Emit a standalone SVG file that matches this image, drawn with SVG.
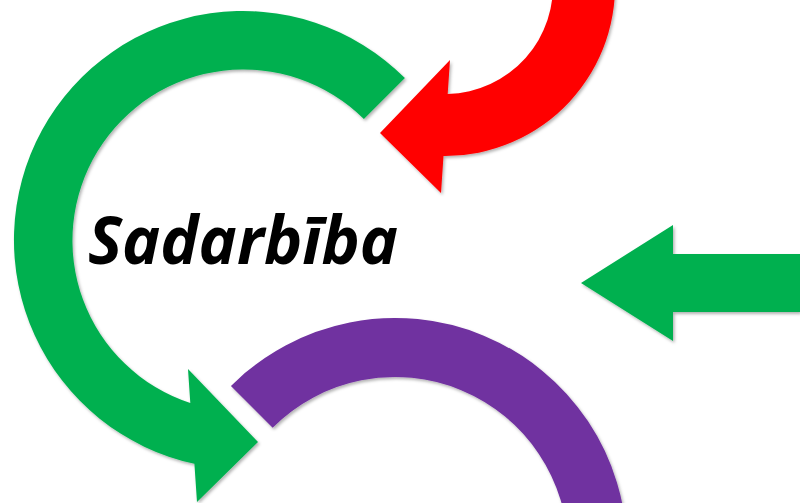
<svg xmlns="http://www.w3.org/2000/svg" width="800" height="503" viewBox="0 0 800 503">
<style>
.green{fill:#00B050}
.red{fill:#FF0000}
.purple{fill:#7030A0}
.shape{filter:url(#sh)}
.label{font-family:"Open Sans","Noto Sans","Liberation Sans",sans-serif;font-weight:700;font-style:italic;font-size:67px;fill:#000}
</style>
<defs>
<filter id="sh" x="-10%" y="-10%" width="130%" height="130%">
<feDropShadow dx="1.5" dy="2" stdDeviation="1.5" flood-color="#000" flood-opacity="0.3"/>
</filter>
</defs>
<rect width="800" height="503" fill="#fff"/>
<g id="connectors">
<g id="purple-arc" class="shape">
<path class="purple" d="M230.95,385.95 A232,232 0 0 1 627,550 L568,550 A173,173 0 0 0 272.67,427.67 Z"/>
</g>
<g id="green-circular-arrow" class="shape">
<path class="green" d="M404.9,78.1 A229,229 0 1 0 194.4,463.8 L197,502 L258,442 L188,369 L190.3,403 A171,171 0 1 1 363.9,119.1 Z"/>
</g>
<g id="red-curved-arrow" class="shape">
<path class="red" d="M552.6,-23.4 A108,108 0 0 1 447.7,94 L450,60 L380,133 L441,193 L443.5,156 A170,170 0 0 0 614.4,-28.8 Z"/>
</g>
<g id="green-left-arrow" class="shape">
<path class="green" d="M800,254 L673,254 L673,225 L581,283 L673,341 L673,312 L800,312 Z"/>
</g>
</g>
<g id="node-sadarbiba">
<text class="label" x="88" y="264" textLength="310" lengthAdjust="spacingAndGlyphs">Sadarbība</text>
</g>
</svg>
